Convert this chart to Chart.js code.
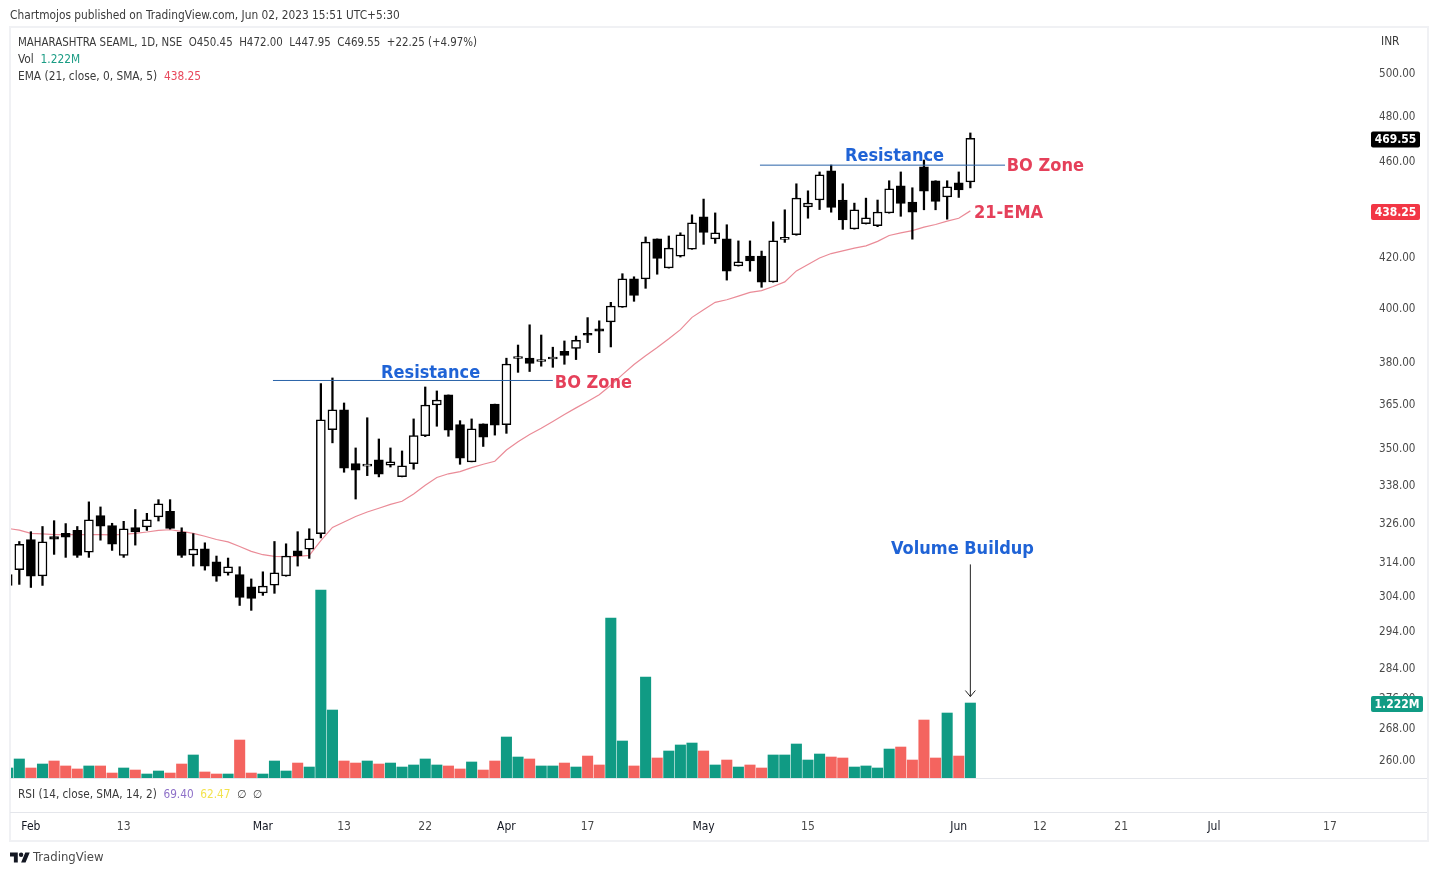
<!DOCTYPE html>
<html lang="en">

<head>
	<meta charset="UTF-8">
	<title>MAHARASHTRA SEAML, 1D, NSE</title>
	<style>
		body {
			margin: 0;
			background-color: white;
			font-family: "DejaVu Sans Condensed", "DejaVu Sans", sans-serif;
			font-size: 11.8px;
			color: #3a3a3a;
		}

		#wrap {
			position: relative;
			width: 1437px;
			height: 875px;
			overflow: hidden;
		}

		#chart {
			position: absolute;
			left: 0;
			top: 0;
		}

		#frame {
			position: absolute;
			left: 9px;
			top: 26px;
			width: 1416px;
			height: 812px;
			border: 2px solid #f0f1f4;
		}

		.rule {
			position: absolute;
			left: 10px;
			width: 1417px;
			height: 1px;
			background-color: #e4e6eb;
		}

		.txt {
			position: absolute;
			white-space: pre;
			line-height: 16px;
		}
	</style>
</head>

<body>
	<div id="wrap">
		<canvas id="chart" width="1437" height="875"></canvas>
		<div id="frame"></div>
		<div class="rule" style="top:778px"></div>
		<div class="rule" style="top:812px"></div>
		<div class="txt" style="left:10px;top:7px">Chartmojos published on TradingView.com, Jun 02, 2023 15:51 UTC+5:30</div>
		<div class="txt" style="left:18px;top:34px;font-size:11.4px">MAHARASHTRA SEAML, 1D, NSE  O450.45  H472.00  L447.95  C469.55  +22.25 (+4.97%)</div>
		<div class="txt" style="left:18px;top:51px">Vol  <span style="color:#1a9c84">1.222M</span></div>
		<div class="txt" style="left:18px;top:68px">EMA (21, close, 0, SMA, 5)  <span style="color:#e8485c">438.25</span></div>
		<div class="txt" style="left:18px;top:786px;font-size:11.7px">RSI (14, close, SMA, 14, 2)  <span style="color:#8e70c8">69.40</span>  <span style="color:#f3e34e">62.47</span>  ∅  ∅</div>
		<div class="txt" style="left:1381px;top:33px">INR</div>
		<svg style="position:absolute;left:10px;top:852px" width="20" height="11" viewBox="0 4 36 18">
			<path fill="#131722" d="M14 22H7V11H0V4h14v18zM28 22h-8l7.5-18h8L28 22z" />
			<circle fill="#131722" cx="20" cy="8" r="4" />
		</svg>
		<div class="txt" style="left:33px;top:849px;font-size:13px;color:#4a4a4a">TradingView</div>
	</div>
	<script src="https://cdn.jsdelivr.net/npm/chart.js"></script>
	<script>
		const opens = [306.8, 311.4, 320.5, 309.6, 321.4, 322.4, 323.3, 316.7, 327.9, 324.8, 315.7, 324.2, 324.4, 327.5, 329.2, 322.8, 315.8, 317.7, 313.8, 310.5, 310.0, 306.4, 304.6, 306.9, 309.6, 317.1, 317.6, 322.3, 355.8, 362.6, 344.5, 343.7, 345.8, 344.0, 340.3, 344.5, 353.8, 364.3, 367.8, 357.6, 345.1, 357.8, 364.6, 357.5, 380.8, 380.9, 379.7, 380.6, 383.4, 384.5, 389.9, 391.7, 394.3, 399.9, 410.8, 410.8, 426.7, 415.1, 419.8, 422.6, 435.8, 426.7, 426.7, 415.9, 419.8, 419.8, 409.6, 426.5, 428.4, 439.9, 442.8, 455.3, 442.8, 430.8, 432.9, 432.1, 437.4, 448.8, 441.9, 457.0, 451.0, 444.1, 450.1, 450.45];
		const highs = [311.2, 319.9, 322.9, 324.5, 326.3, 325.4, 324.5, 332.2, 330.6, 325.5, 326.1, 329.8, 328.6, 332.9, 332.9, 324.1, 322.3, 319.5, 315.5, 314.9, 312.3, 308.7, 310.8, 319.9, 319.2, 322.9, 323.8, 371.8, 373.8, 365.0, 349.7, 359.9, 352.7, 349.7, 348.7, 359.5, 370.6, 369.2, 367.8, 358.9, 359.5, 357.8, 364.6, 380.9, 385.7, 393.2, 389.4, 384.9, 387.2, 389.0, 395.9, 394.7, 401.7, 412.8, 411.6, 427.5, 426.7, 427.9, 429.2, 436.6, 443.2, 437.4, 432.5, 425.9, 425.9, 421.8, 433.7, 438.7, 449.7, 446.7, 454.8, 457.8, 449.7, 441.5, 443.6, 442.8, 451.0, 454.8, 448.0, 460.0, 451.0, 451.0, 454.8, 472.0];
		const lows = [305.5, 307.1, 306.2, 306.8, 316.0, 315.1, 315.1, 315.1, 320.3, 317.2, 315.1, 318.8, 323.3, 326.2, 323.7, 315.1, 312.5, 311.3, 308.0, 309.8, 301.0, 299.6, 303.9, 304.5, 309.5, 312.5, 314.8, 321.0, 351.4, 341.7, 333.1, 340.6, 340.2, 343.4, 340.2, 342.7, 353.5, 357.0, 353.6, 344.3, 345.1, 350.2, 354.0, 354.6, 375.8, 376.1, 378.0, 377.6, 378.7, 380.4, 386.6, 382.9, 385.0, 399.8, 402.1, 407.1, 412.6, 415.0, 419.4, 422.5, 424.5, 424.9, 410.3, 415.8, 413.8, 407.5, 409.5, 425.3, 428.2, 435.2, 438.8, 437.7, 430.6, 430.7, 432.8, 431.7, 437.3, 436.0, 426.6, 438.7, 438.7, 434.8, 443.9, 447.95];
		const closes = [310.0, 319.0, 309.5, 319.8, 320.6, 321.2, 315.7, 326.6, 324.6, 319.1, 323.8, 322.8, 326.6, 331.6, 323.9, 315.7, 317.6, 312.5, 309.5, 312.3, 303.3, 303.0, 306.6, 310.5, 315.5, 315.6, 320.7, 359.2, 362.6, 343.0, 342.4, 343.9, 341.1, 345.1, 343.8, 353.8, 364.3, 366.0, 355.7, 346.3, 356.1, 353.3, 357.4, 378.8, 380.9, 379.0, 380.2, 380.7, 381.9, 387.4, 389.3, 390.8, 400.3, 410.8, 404.4, 425.4, 418.9, 423.0, 428.4, 433.3, 429.4, 429.2, 413.8, 417.5, 417.9, 409.5, 425.9, 427.1, 443.6, 441.5, 453.5, 439.7, 434.5, 438.7, 435.4, 437.8, 447.5, 441.4, 437.7, 446.5, 442.2, 448.4, 447.1, 469.55];
		// volume in millions
		const volumes = [0.163, 0.310, 0.163, 0.228, 0.277, 0.196, 0.147, 0.196, 0.196, 0.081, 0.163, 0.130, 0.065, 0.114, 0.081, 0.228, 0.375, 0.098, 0.065, 0.065, 0.619, 0.081, 0.065, 0.277, 0.114, 0.244, 0.179, 3.063, 1.108, 0.277, 0.244, 0.277, 0.228, 0.244, 0.179, 0.212, 0.310, 0.212, 0.196, 0.147, 0.261, 0.130, 0.277, 0.668, 0.342, 0.310, 0.196, 0.196, 0.244, 0.179, 0.358, 0.212, 2.607, 0.603, 0.196, 1.646, 0.326, 0.440, 0.538, 0.570, 0.440, 0.212, 0.293, 0.179, 0.212, 0.163, 0.375, 0.375, 0.554, 0.293, 0.391, 0.342, 0.326, 0.179, 0.196, 0.163, 0.472, 0.505, 0.293, 0.945, 0.326, 1.059, 0.358, 1.222];
		const emaValues = [323.9, 323.4, 322.4, 322.2, 322.0, 322.0, 322.0, 322.0, 322.0, 321.9, 322.1, 322.4, 322.8, 323.3, 323.5, 323.0, 322.4, 321.5, 320.5, 319.8, 318.4, 316.9, 315.9, 315.4, 315.3, 315.4, 315.7, 320.2, 324.2, 325.9, 327.6, 329.0, 330.2, 331.4, 332.4, 334.7, 337.5, 340.0, 341.2, 341.9, 343.2, 344.3, 345.3, 349.0, 351.8, 354.2, 356.3, 358.6, 361.0, 363.3, 365.5, 367.9, 371.2, 375.0, 378.6, 381.8, 384.8, 388.0, 391.4, 396.0, 398.9, 401.7, 402.7, 404.1, 405.5, 406.2, 407.8, 409.6, 413.9, 416.4, 419.0, 420.8, 421.9, 423.0, 423.9, 425.7, 428.1, 429.2, 430.1, 431.5, 432.6, 434.0, 435.2, 438.25];

		const dateLabels = ['Feb', '13', 'Mar', '13', '22', 'Apr', '17', 'May', '15', 'Jun', '12', '21', 'Jul', '17'];
		const dateBars = [2, 10, 22, 29, 36, 43, 50, 60, 69, 82, 89, 96, 104, 114];
		const monthNames = ['Feb', 'Mar', 'Apr', 'May', 'Jun', 'Jul'];
		const priceTicks = [500, 480, 460, 420, 400, 380, 365, 350, 338, 326, 314, 304, 294, 284, 276, 268, 260];

		const resistanceA = [{ x: 22.87, y: 372.9 }, { x: 47, y: 372.9 }];
		const resistanceB = [{ x: 64.86, y: 457.75 }, { x: 85.99, y: 457.75 }];

		const notes = [
			{ text: 'Resistance', bar: 32.19, price: 376.1, color: '#1f63d6' },
			{ text: 'BO Zone', bar: 47.17, price: 372.5, color: '#e5405a' },
			{ text: 'Resistance', bar: 72.19, price: 462.3, color: '#1f63d6' },
			{ text: 'BO Zone', bar: 86.14, price: 458, color: '#e5405a' },
			{ text: '21-EMA', bar: 83.32, price: 438, color: '#e5405a' },
			{ text: 'Volume Buildup', bar: 76.16, price: 318, color: '#1f63d6' }
		];
		const arrowBar = 83;
		const arrowFrom = 313;
		const arrowTo = 276;

		const UP = '#109b84';
		const DOWN = '#f4645f';
		const FONT = '"DejaVu Sans Condensed", "DejaVu Sans"';

		const volumeBars = volumes.map((v, i) => ({ x: i, y: v }));
		const wickBars = highs.map((h, i) => ({ x: i, y: [lows[i], h] }));
		const bodyBars = opens.map((o, i) => ({ x: i, y: [o, closes[i]] }));
		const emaLine = emaValues.map((v, i) => ({ x: i, y: v }));

		// price tags on the right axis, and the text and arrow drawn on the chart
		const overlay = {
			id: 'overlay',
			afterDraw(chart) {
				const { ctx, scales, chartArea } = chart;
				const y = scales.y, x = scales.x;

				ctx.save();
				ctx.font = 'bold 18px ' + FONT;
				ctx.textBaseline = 'middle';
				ctx.textAlign = 'left';
				notes.forEach(n => {
					ctx.fillStyle = n.color;
					ctx.fillText(n.text, x.getPixelForValue(n.bar), y.getPixelForValue(n.price) + 2);
				});

				const ax = x.getPixelForValue(arrowBar);
				const a0 = y.getPixelForValue(arrowFrom);
				const a1 = y.getPixelForValue(arrowTo);
				ctx.strokeStyle = '#222';
				ctx.lineWidth = 1;
				ctx.beginPath();
				ctx.moveTo(ax, a0);
				ctx.lineTo(ax, a1);
				ctx.moveTo(ax - 5, a1 - 6);
				ctx.lineTo(ax, a1);
				ctx.lineTo(ax + 5, a1 - 6);
				ctx.stroke();

				const tag = (text, py, color, w) => {
					ctx.fillStyle = color;
					ctx.beginPath();
					ctx.roundRect(chartArea.right - 1, py - 7, w, 16, 2);
					ctx.fill();
					ctx.fillStyle = 'white';
					ctx.font = 'bold 12px ' + FONT;
					ctx.textAlign = 'center';
					ctx.fillText(text, chartArea.right - 1 + w / 2, py + 1.5);
				};
				tag('469.55', y.getPixelForValue(closes[closes.length - 1]), '#000000', 49);
				tag('438.25', y.getPixelForValue(emaValues[emaValues.length - 1]), '#f23645', 49);
				tag('1.222M', scales.yVol.getPixelForValue(volumes[volumes.length - 1]), UP, 52);
				ctx.restore();
			}
		};

		new Chart(document.getElementById('chart'), {
			type: 'bar',
			plugins: [overlay],
			data: {
				datasets: [
					{
						type: 'line',
						data: resistanceA,
						borderColor: '#2962a8',
						borderWidth: 1,
						pointRadius: 0,
						order: 1
					},
					{
						type: 'line',
						data: resistanceB,
						borderColor: '#2962a8',
						borderWidth: 1,
						pointRadius: 0,
						order: 1
					},
					{
						data: bodyBars,
						backgroundColor: opens.map((o, i) => closes[i] >= o ? '#ffffff' : '#000000'),
						borderColor: '#000000',
						borderWidth: 1.5,
						borderSkipped: false,
						barThickness: 9,
						minBarLength: 2,
						grouped: false,
						order: 2
					},
					{
						data: wickBars,
						backgroundColor: '#000000',
						barThickness: 1.6,
						grouped: false,
						order: 3
					},
					{
						type: 'line',
						data: emaLine,
						borderColor: '#ea8b97',
						borderWidth: 1.2,
						pointRadius: 0,
						tension: 0,
						order: 4
					},
					{
						data: volumeBars,
						yAxisID: 'yVol',
						backgroundColor: opens.map((o, i) => closes[i] >= o ? UP : DOWN),
						barThickness: 10.4,
						grouped: false,
						order: 5
					}
				]
			},
			options: {
				responsive: false,
				animation: false,
				layout: { padding: { left: 10, right: 10, top: 27, bottom: 35 } },
				plugins: { legend: { display: false }, tooltip: { enabled: false } },
				scales: {
					x: {
						type: 'linear',
						offset: false,
						min: 0.198,
						max: 117.63,
						grid: { display: false, drawTicks: false },
						border: { display: false },
						afterBuildTicks: s => { s.ticks = dateBars.map(v => ({ value: v })); },
						afterFit: s => {
							s.height = 62;
							s.paddingLeft = 0;
							s.paddingRight = 0;
						},
						ticks: {
							autoSkip: false,
							maxRotation: 0,
							padding: 42,
							font: { family: FONT, size: 12 },
							color: ctx => monthNames.includes(dateLabels[ctx.index]) ? '#131722' : '#4a4a4a',
							callback: (v, i) => dateLabels[i]
						}
					},
					y: {
						type: 'logarithmic',
						position: 'right',
						min: 255.4,
						max: 522.1,
						grid: { display: false, drawTicks: false },
						border: { display: false },
						afterBuildTicks: s => { s.ticks = priceTicks.map(v => ({ value: v })); },
						afterFit: s => {
							s.width = 55;
							s.paddingTop = 0;
							s.paddingBottom = 0;
						},
						ticks: {
							autoSkip: false,
							padding: 7,
							// blank first line plus a small line height nudges the label 2px down
							font: { family: FONT, size: 11.6, lineHeight: '4px' },
							color: '#4a4a4a',
							callback: v => ['', v.toFixed(2)]
						}
					},
					yVol: {
						display: false,
						min: 0,
						max: 12.24
					}
				}
			}
		});
	</script>
</body>

</html>
